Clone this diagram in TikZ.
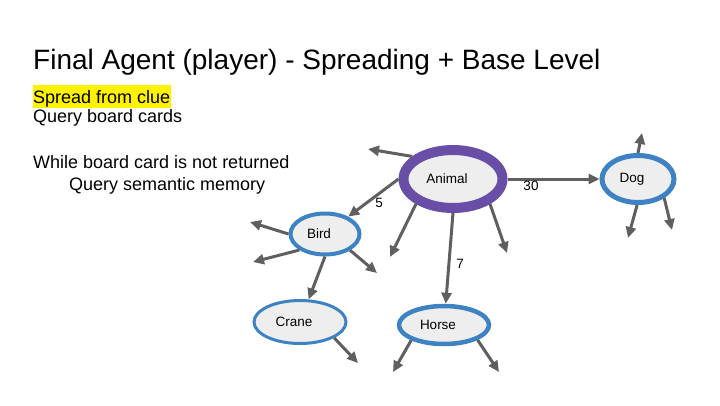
\documentclass[tikz,border=0pt]{standalone}
\usepackage{fontspec}
\setmainfont{Liberation Sans}
\usetikzlibrary{shapes.geometric,arrows.meta}
\definecolor{animalpurple}{RGB}{104,78,166}
\definecolor{cardblue}{RGB}{61,131,196}
\definecolor{arrowgray}{RGB}{95,95,95}
\definecolor{cardfill}{RGB}{238,238,238}
\tikzset{
  concept/.style={ellipse, draw=cardblue, fill=cardfill, inner sep=0pt,
    font=\fontsize{13.5}{16}\selectfont,
    execute at begin node={\hspace*{-12pt}}},
  spread/.style={draw=arrowgray, line width=3pt,
    -{Triangle[length=11pt,width=10pt]}},
  weight/.style={inner sep=0pt, font=\fontsize{13.5}{16}\selectfont},
  body/.style={anchor=base west, inner sep=0pt, font=\fontsize{18}{22}\selectfont}
}
\begin{document}
\begin{tikzpicture}[x=1pt,y=-1pt]
  \useasboundingbox (0,0) rectangle (720,405);
  % text
  \node[anchor=base west, inner sep=0pt, font=\fontsize{28}{34}\selectfont]
    (title) at (33,69) {Final Agent (player) - Spreading + Base Level};
  \node[body, fill=yellow, inner xsep=0.5pt, text height=18pt, text depth=4.5pt]
    (clue) at (32.5,103) {Spread from clue};
  \node[body] (query) at (33,122) {Query board cards};
  \node[body] (while) at (33,168) {While board card is not returned};
  \node[body] (semantic) at (69,190) {Query semantic memory};
  % concepts
  \node[concept, draw=animalpurple, line width=10pt, minimum width=99pt,
    minimum height=58pt] (animal) at (453,179) {Animal};
  \node[concept, line width=4pt, minimum width=69pt, minimum height=41pt]
    (bird) at (325,234) {Bird};
  \node[concept, line width=3pt, minimum width=92pt, minimum height=43pt]
    (crane) at (300,322) {Crane};
  \node[concept, line width=4.5pt, minimum width=90pt, minimum height=38pt]
    (horse) at (444,325) {Horse};
  \node[concept, line width=5pt, minimum width=72pt, minimum height=47pt]
    (dog) at (638,179) {Dog};
  % free ends
  \coordinate (a1) at (368,149);
  \coordinate (a2) at (390,257);
  \coordinate (a3) at (507,253);
  \coordinate (d1) at (642,133);
  \coordinate (d2) at (628,238);
  \coordinate (d3) at (672,230);
  \coordinate (b1) at (250,222);
  \coordinate (b2) at (253,262);
  \coordinate (b3) at (377,273);
  \coordinate (c1) at (358,363);
  \coordinate (h1) at (393,372);
  \coordinate (h2) at (499,372);
  % spreading
  \begin{scope}[spread]
    \draw (animal.151) to (a1);
    \draw (animal.180) to (bird);
    \draw (animal.214) to (a2);
    \draw (animal.270) to (horse);
    \draw (animal.326) to (a3);
    \draw (animal.0) to (dog.180);
    \draw (dog.90) to (d1);
    \draw (dog.268) to (d2);
    \draw (dog.324) to (d3);
    \draw (bird.180) to (b1);
    \draw (bird.212) to (b2);
    \draw (bird.327) to (b3);
    \draw (bird.270) to (crane);
    \draw (crane.335) to (c1);
    \draw (horse.205) to (h1);
    \draw (horse.336) to (h2);
  \end{scope}
  % weights
  \node[weight] (w5) at (379,203) {5};
  \node[weight] (w7) at (460,264) {7};
  \node[weight] (w30) at (531,186) {30};
\end{tikzpicture}
\end{document}
